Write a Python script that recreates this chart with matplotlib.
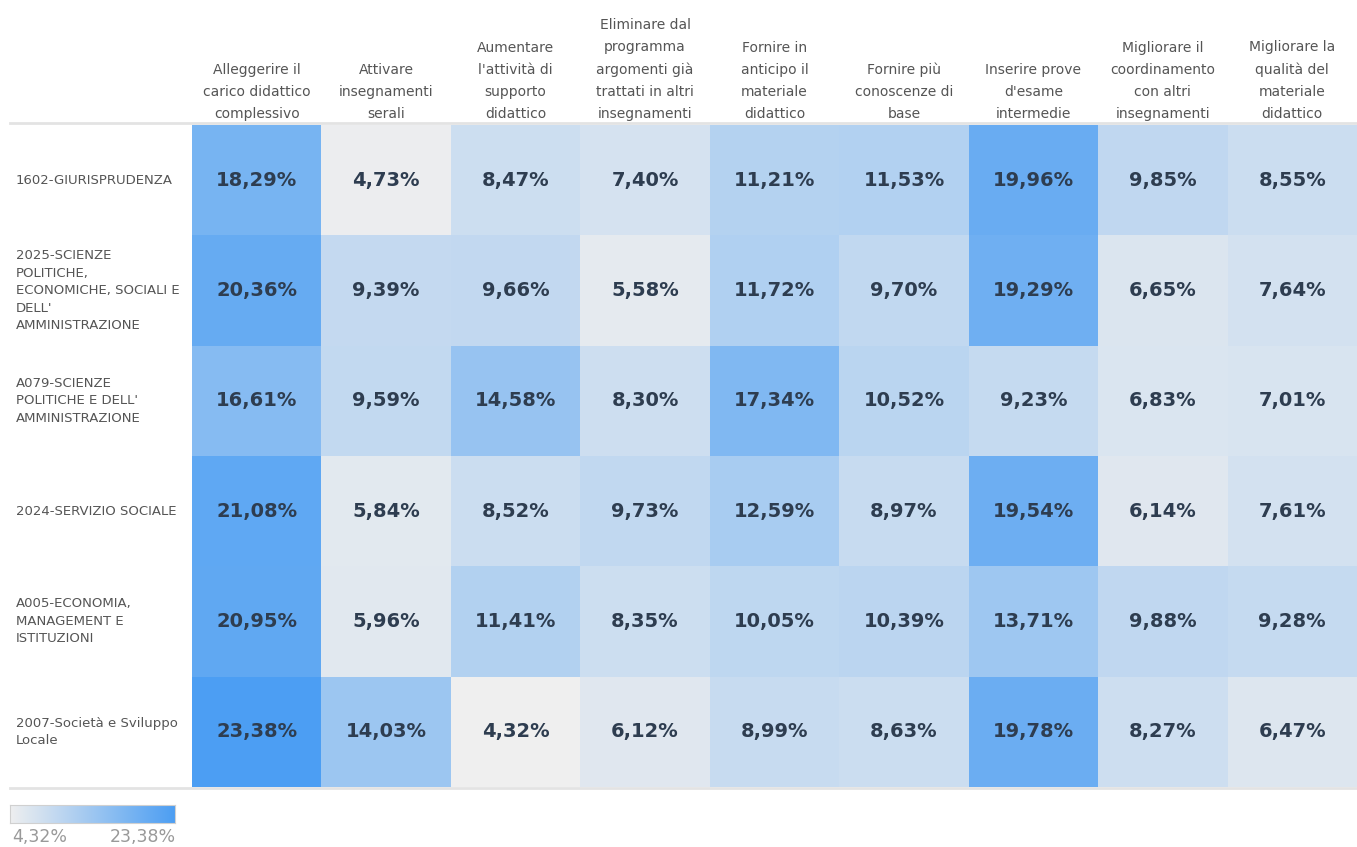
import numpy as np
import matplotlib.pyplot as plt
import matplotlib.transforms as mtransforms
from matplotlib.colors import LinearSegmentedColormap
from matplotlib.lines import Line2D

# column headers (suggestions) and row labels (degree courses)
columns = [
    "Alleggerire il\ncarico didattico\ncomplessivo",
    "Attivare\ninsegnamenti\nserali",
    "Aumentare\nl'attività di\nsupporto\ndidattico",
    "Eliminare dal\nprogramma\nargomenti già\ntrattati in altri\ninsegnamenti",
    "Fornire in\nanticipo il\nmateriale\ndidattico",
    "Fornire più\nconoscenze di\nbase",
    "Inserire prove\nd'esame\nintermedie",
    "Migliorare il\ncoordinamento\ncon altri\ninsegnamenti",
    "Migliorare la\nqualità del\nmateriale\ndidattico",
]
rows = [
    "1602-GIURISPRUDENZA",
    "2025-SCIENZE\nPOLITICHE,\nECONOMICHE, SOCIALI E\nDELL'\nAMMINISTRAZIONE",
    "A079-SCIENZE\nPOLITICHE E DELL'\nAMMINISTRAZIONE",
    "2024-SERVIZIO SOCIALE",
    "A005-ECONOMIA,\nMANAGEMENT E\nISTITUZIONI",
    "2007-Società e Sviluppo\nLocale",
]

giurisprudenza = [18.29, 4.73, 8.47, 7.40, 11.21, 11.53, 19.96, 9.85, 8.55]
scienze_pol_eco = [20.36, 9.39, 9.66, 5.58, 11.72, 9.70, 19.29, 6.65, 7.64]
scienze_pol_amm = [16.61, 9.59, 14.58, 8.30, 17.34, 10.52, 9.23, 6.83, 7.01]
servizio_sociale = [21.08, 5.84, 8.52, 9.73, 12.59, 8.97, 19.54, 6.14, 7.61]
economia = [20.95, 5.96, 11.41, 8.35, 10.05, 10.39, 13.71, 9.88, 9.28]
societa_sviluppo = [23.38, 14.03, 4.32, 6.12, 8.99, 8.63, 19.78, 8.27, 6.47]

values = np.array([giurisprudenza, scienze_pol_eco, scienze_pol_amm,
                   servizio_sociale, economia, societa_sviluppo])
vmin, vmax = values.min(), values.max()


def pct(v):
    return f"{v:.2f}%".replace(".", ",")


cmap = LinearSegmentedColormap.from_list("tab_blue", ["#efefef", "#4c9ef3"])

W, H = 1357, 847
fig = plt.figure(figsize=(W / 100, H / 100), dpi=100)
ax = fig.add_axes([192 / W, 60 / H, (W - 192) / W, (787 - 125) / H])

ax.pcolormesh(np.arange(len(columns) + 1), np.arange(len(rows) + 1), values,
              cmap=cmap, vmin=vmin, vmax=vmax)
ax.set_xlim(0, len(columns))
ax.set_ylim(len(rows), 0)
ax.set_axis_off()

# cell labels
for i in range(len(rows)):
    for j in range(len(columns)):
        ax.text(j + 0.5, i + 0.5, pct(values[i, j]), ha="center", va="center",
                fontsize=14, fontweight="bold", color="#2e3d50")

# column headers
trans_top = mtransforms.blended_transform_factory(ax.transData, fig.transFigure)
for j, c in enumerate(columns):
    ax.text(j + 0.5, (H - 121) / H, c, transform=trans_top, ha="center",
            va="bottom", fontsize=10, color="#555555", linespacing=1.72)

# row labels
trans_left = mtransforms.blended_transform_factory(fig.transFigure, ax.transData)
for i, r in enumerate(rows):
    ax.text(16 / W, i + 0.5, r, transform=trans_left, ha="left", va="center",
            fontsize=9.5, color="#555555", linespacing=1.45)

# separator lines
for yp in (123, 788):
    fig.add_artist(Line2D([10 / W, 1.0], [(H - yp) / H, (H - yp) / H],
                          transform=fig.transFigure, color="#e3e3e3", lw=2))

# colour legend
lax = fig.add_axes([10 / W, (H - 823) / H, 165 / W, 18 / H])
lax.imshow(np.linspace(vmin, vmax, 256).reshape(1, -1), aspect="auto",
           cmap=cmap, vmin=vmin, vmax=vmax)
lax.set_xticks([])
lax.set_yticks([])
for s in lax.spines.values():
    s.set_color("#d0d0d0")
fig.text(12 / W, (H - 837) / H, pct(vmin), ha="left", va="center",
         fontsize=12.5, color="#999999")
fig.text(176 / W, (H - 837) / H, pct(vmax), ha="right", va="center",
         fontsize=12.5, color="#999999")

fig.savefig("out.png", dpi=100)
